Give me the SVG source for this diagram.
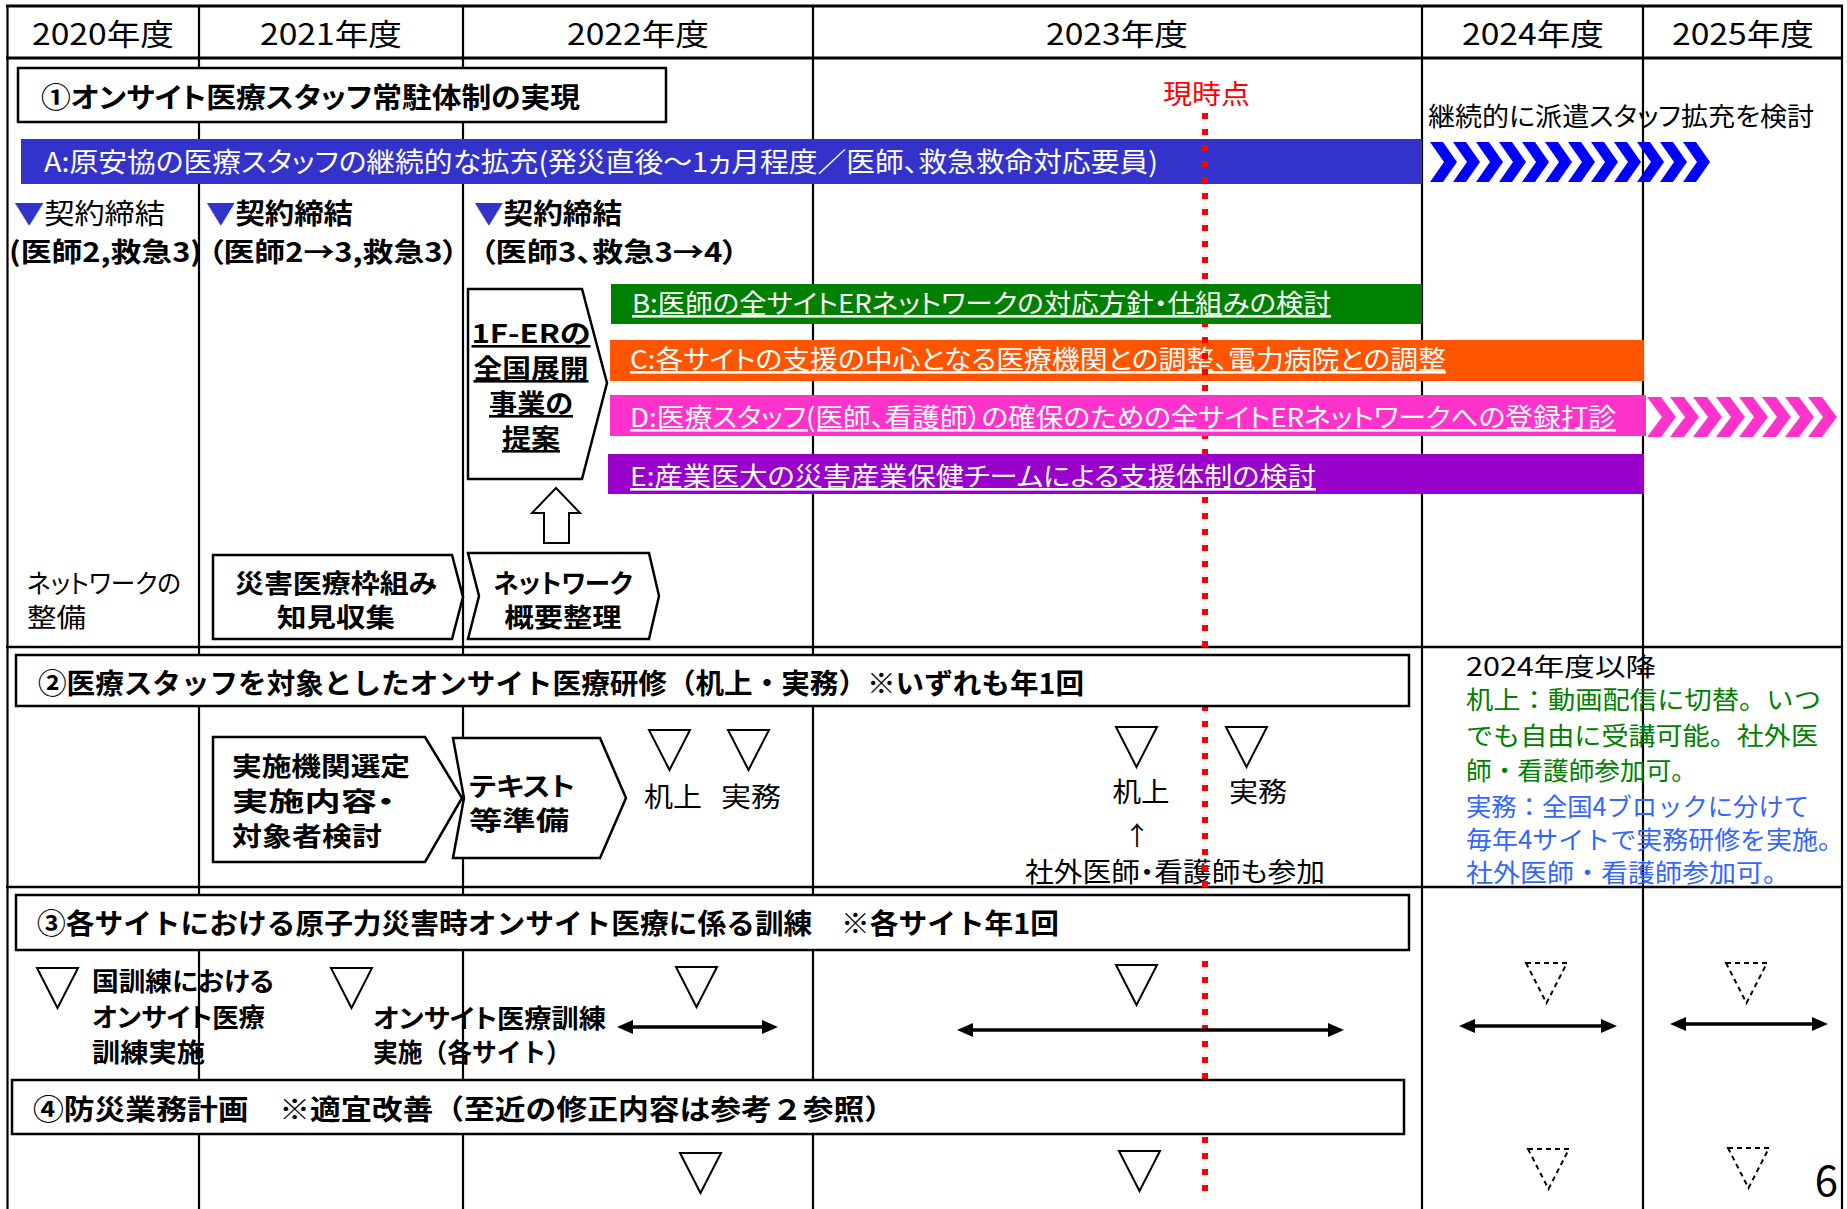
<svg xmlns="http://www.w3.org/2000/svg" xmlns:xlink="http://www.w3.org/1999/xlink" width="1847" height="1209" viewBox="0 0 1847 1209">
<style>
.t{font-family:'Noto Sans CJK JP','Noto Sans',sans-serif;font-feature-settings:"palt";fill:#000}
.np{font-feature-settings:normal}
.b{font-weight:bold}
.w{fill:#fff}
.u{text-decoration:underline}
.box{fill:#fff;stroke:#000;stroke-width:2.5}
.grid{stroke:#000;stroke-width:2.2;fill:none}
.tri{fill:#fff;stroke:#000;stroke-width:2}
.trid{fill:none;stroke:#000;stroke-width:2;stroke-dasharray:5 4}
.arr{stroke:#000;stroke-width:3.5;fill:none;marker-start:url(#ah);marker-end:url(#ah)}
</style>
<defs>
<marker id="ah" markerUnits="userSpaceOnUse" markerWidth="18" markerHeight="16" refX="8" refY="7" orient="auto-start-reverse" viewBox="0 0 18 16">
<path d="M0,0 L16,7 L0,14 z" fill="#000"/>
</marker>
<polygon id="chevB" points="0,0 13,0 27,20 13,40 0,40 14,20" fill="#0000FF"/>
<polygon id="chevP" points="0,0 14,0 29,20 14,40 0,40 15,20" fill="#FF33CC"/>
<polygon id="tri" points="0,0 41,0 20.5,40"/>
</defs>
<rect width="1847" height="1209" fill="#fff"/>

<g id="grid">
<line class="grid" x1="7.5" y1="5" x2="7.5" y2="1209"/>
<line class="grid" x1="199" y1="5" x2="199" y2="1209"/>
<line class="grid" x1="463" y1="5" x2="463" y2="1209"/>
<line class="grid" x1="813" y1="5" x2="813" y2="1209"/>
<line class="grid" x1="1422" y1="5" x2="1422" y2="1209"/>
<line class="grid" x1="1643" y1="5" x2="1643" y2="1209"/>
<line class="grid" x1="1842" y1="5" x2="1842" y2="1209"/>
<line class="grid" x1="6" y1="6" x2="1843" y2="6" style="stroke-width:3"/>
<line class="grid" x1="6" y1="58" x2="1843" y2="58" style="stroke-width:3"/>
<line class="grid" x1="6" y1="647" x2="1843" y2="647" style="stroke-width:2.6"/>
<line class="grid" x1="6" y1="887" x2="1843" y2="887" style="stroke-width:2.6"/>
</g>

<g id="header">
<text class="t" x="103" y="44.5" font-size="30" text-anchor="middle" textLength="142" lengthAdjust="spacingAndGlyphs">2020年度</text>
<text class="t" x="331" y="44.5" font-size="30" text-anchor="middle" textLength="142" lengthAdjust="spacingAndGlyphs">2021年度</text>
<text class="t" x="638" y="44.5" font-size="30" text-anchor="middle" textLength="142" lengthAdjust="spacingAndGlyphs">2022年度</text>
<text class="t" x="1117" y="44.5" font-size="30" text-anchor="middle" textLength="142" lengthAdjust="spacingAndGlyphs">2023年度</text>
<text class="t" x="1533" y="44.5" font-size="30" text-anchor="middle" textLength="142" lengthAdjust="spacingAndGlyphs">2024年度</text>
<text class="t" x="1743" y="44.5" font-size="30" text-anchor="middle" textLength="142" lengthAdjust="spacingAndGlyphs">2025年度</text>
</g>

<g id="bar-A">
<rect x="21" y="139" width="1401" height="45" fill="#3333CC"/>
<text class="t w" x="44" y="172" font-size="27" textLength="1114" lengthAdjust="spacingAndGlyphs">A:原安協の医療スタッフの継続的な拡充(発災直後～1ヵ月程度／医師、救急救命対応要員)</text>
</g>

<g id="bar-C">
<rect x="610" y="340" width="1034" height="41" fill="#FF5500"/>
<text class="t w u" x="630" y="369" font-size="26" textLength="816" lengthAdjust="spacingAndGlyphs">C:各サイトの支援の中心となる医療機関との調整、電力病院との調整</text>
</g>

<g id="training-2023-note">
<text class="t" x="1175" y="882" font-size="27" text-anchor="middle" textLength="300" lengthAdjust="spacingAndGlyphs">社外医師・看護師も参加</text>
</g>

<g id="now-line">
<text class="t" x="1163" y="104" font-size="27" style="fill:#FF0000" textLength="87" lengthAdjust="spacingAndGlyphs">現時点</text>
<line x1="1205" y1="113" x2="1205" y2="1193" stroke="#FF0000" stroke-width="6" stroke-dasharray="6 10"/>
</g>

<g id="bar-B">
<rect x="611" y="284" width="811" height="40" fill="#008000"/>
<text class="t w u" x="632" y="313" font-size="26" textLength="699" lengthAdjust="spacingAndGlyphs">B:医師の全サイトERネットワークの対応方針・仕組みの検討</text>
</g>

<g id="bar-D">
<rect x="610" y="395" width="1036" height="41" fill="#FF33CC"/>
<text class="t w u" x="630" y="427" font-size="26" textLength="986" lengthAdjust="spacingAndGlyphs">D:医療スタッフ(医師、看護師）の確保のための全サイトERネットワークへの登録打診</text>
</g>

<g id="bar-E">
<rect x="608" y="454" width="1036" height="40" fill="#9900CC"/>
<text class="t w u" x="630" y="486" font-size="26" textLength="686" lengthAdjust="spacingAndGlyphs">E:産業医大の災害産業保健チームによる支援体制の検討</text>
</g>

<g id="chevrons-A">
<use xlink:href="#chevB" x="1430" y="142"/>
<use xlink:href="#chevB" x="1453" y="142"/>
<use xlink:href="#chevB" x="1476" y="142"/>
<use xlink:href="#chevB" x="1499" y="142"/>
<use xlink:href="#chevB" x="1522" y="142"/>
<use xlink:href="#chevB" x="1545" y="142"/>
<use xlink:href="#chevB" x="1568" y="142"/>
<use xlink:href="#chevB" x="1591" y="142"/>
<use xlink:href="#chevB" x="1614" y="142"/>
<use xlink:href="#chevB" x="1637" y="142"/>
<use xlink:href="#chevB" x="1660" y="142"/>
<use xlink:href="#chevB" x="1683" y="142"/>
</g>
<g id="chevrons-D">
<use xlink:href="#chevP" x="1647" y="397"/>
<use xlink:href="#chevP" x="1670" y="397"/>
<use xlink:href="#chevP" x="1693" y="397"/>
<use xlink:href="#chevP" x="1716" y="397"/>
<use xlink:href="#chevP" x="1739" y="397"/>
<use xlink:href="#chevP" x="1762" y="397"/>
<use xlink:href="#chevP" x="1785" y="397"/>
<use xlink:href="#chevP" x="1808" y="397"/>
</g>

<g id="note-2024">
<text class="t" x="1428" y="125.6" font-size="26" textLength="386" lengthAdjust="spacingAndGlyphs">継続的に派遣スタッフ拡充を検討</text>
</g>

<g id="box-1">
<rect class="box" x="18" y="68" width="648" height="54"/>
<text class="t b" x="41" y="107.5" font-size="28" textLength="539" lengthAdjust="spacingAndGlyphs">①オンサイト医療スタッフ常駐体制の実現</text>
</g>

<g id="contracts">
<text class="t" x="14" y="224" font-size="28" textLength="151" lengthAdjust="spacingAndGlyphs"><tspan style="fill:#3333CC">▼</tspan>契約締結</text>
<text class="t b" x="9" y="262" font-size="27" textLength="193" lengthAdjust="spacingAndGlyphs">(医師2,救急3)</text>
<text class="t b" x="206" y="224" font-size="28" textLength="147" lengthAdjust="spacingAndGlyphs"><tspan style="fill:#3333CC">▼</tspan>契約締結</text>
<text class="t b" x="208" y="262" font-size="27" textLength="250" lengthAdjust="spacingAndGlyphs">（医師2→3,救急3）</text>
<text class="t b" x="474" y="224" font-size="28" textLength="148" lengthAdjust="spacingAndGlyphs"><tspan style="fill:#3333CC">▼</tspan>契約締結</text>
<text class="t b" x="480" y="262" font-size="27" textLength="258" lengthAdjust="spacingAndGlyphs">（医師3、救急3→4）</text>
</g>

<g id="box-1f-er">
<polygon class="box" points="468,289 582,289 607,383 582,479 468,479"/>
<text class="t b u" x="531" y="343" font-size="26" text-anchor="middle" textLength="119" lengthAdjust="spacingAndGlyphs">1F-ERの</text>
<text class="t b u" x="531" y="378" font-size="26" text-anchor="middle" textLength="115" lengthAdjust="spacingAndGlyphs">全国展開</text>
<text class="t b u" x="531" y="413" font-size="26" text-anchor="middle" textLength="84" lengthAdjust="spacingAndGlyphs">事業の</text>
<text class="t b u" x="531" y="448" font-size="26" text-anchor="middle" textLength="58" lengthAdjust="spacingAndGlyphs">提案</text>
</g>

<g id="label-network">
<text class="t" x="27" y="593" font-size="26" textLength="154" lengthAdjust="spacingAndGlyphs">ネットワークの</text>
<text class="t" x="27" y="627" font-size="26" textLength="59" lengthAdjust="spacingAndGlyphs">整備</text>
</g>

<g id="box-saigai">
<polygon class="box" points="213,555 452,555 463,597 452,639 213,639"/>
<text class="t b" x="336" y="593" font-size="26" text-anchor="middle" textLength="202" lengthAdjust="spacingAndGlyphs">災害医療枠組み</text>
<text class="t b" x="336" y="627" font-size="26" text-anchor="middle" textLength="118" lengthAdjust="spacingAndGlyphs">知見収集</text>
</g>

<g id="box-network">
<polygon class="box" points="468,553 649,553 659,596 649,639 468,639 479,596"/>
<text class="t b" x="563" y="593" font-size="26" text-anchor="middle" textLength="139" lengthAdjust="spacingAndGlyphs">ネットワーク</text>
<text class="t b" x="563" y="627" font-size="26" text-anchor="middle" textLength="117" lengthAdjust="spacingAndGlyphs">概要整理</text>
</g>

<g id="box-2">
<rect class="box" x="16" y="655" width="1393" height="51"/>
<text class="t np b" x="38" y="694" font-size="28" textLength="1046" lengthAdjust="spacingAndGlyphs">②医療スタッフを対象としたオンサイト医療研修（机上・実務）※いずれも年1回</text>
</g>

<g id="box-jisshi">
<polygon class="box" points="213,737 425,737 462,798 425,862 213,862"/>
<text class="t b" x="232" y="776" font-size="26" textLength="178" lengthAdjust="spacingAndGlyphs">実施機関選定</text>
<text class="t b" x="232" y="811" font-size="26" textLength="163" lengthAdjust="spacingAndGlyphs">実施内容・</text>
<text class="t b" x="232" y="846" font-size="26" textLength="150" lengthAdjust="spacingAndGlyphs">対象者検討</text>
</g>

<g id="box-text">
<polygon class="box" points="453,738 600,738 626,798 600,858 453,858 464,798"/>
<text class="t b" x="469" y="796" font-size="26" textLength="106" lengthAdjust="spacingAndGlyphs">テキスト</text>
<text class="t b" x="469" y="830" font-size="26" textLength="100" lengthAdjust="spacingAndGlyphs">等準備</text>
</g>

<g id="training-marks">
<use xlink:href="#tri" class="tri" x="649" y="730"/>
<use xlink:href="#tri" class="tri" x="728" y="730"/>
<text class="t" x="673" y="807" font-size="27" text-anchor="middle" textLength="58" lengthAdjust="spacingAndGlyphs">机上</text>
<text class="t" x="751" y="807" font-size="27" text-anchor="middle" textLength="60" lengthAdjust="spacingAndGlyphs">実務</text>
<use xlink:href="#tri" class="tri" x="1116" y="727"/>
<use xlink:href="#tri" class="tri" x="1226" y="727"/>
<text class="t" x="1141" y="802" font-size="27" text-anchor="middle" textLength="57" lengthAdjust="spacingAndGlyphs">机上</text>
<text class="t" x="1258" y="802" font-size="27" text-anchor="middle" textLength="58" lengthAdjust="spacingAndGlyphs">実務</text>
<text class="t" x="1137" y="845" font-size="26" text-anchor="middle">↑</text>
</g>

<g id="note-2024-training">
<text class="t np" x="1466" y="676" font-size="25" textLength="190" lengthAdjust="spacingAndGlyphs">2024年度以降</text>
<text class="t np" x="1466" y="709" font-size="25" style="fill:#008000" textLength="355" lengthAdjust="spacingAndGlyphs">机上：動画配信に切替。いつ</text>
<text class="t np" x="1466" y="745" font-size="25" style="fill:#008000" textLength="352" lengthAdjust="spacingAndGlyphs">でも自由に受講可能。社外医</text>
<text class="t np" x="1466" y="780" font-size="25" style="fill:#008000" textLength="231" lengthAdjust="spacingAndGlyphs">師・看護師参加可。</text>
<text class="t np" x="1466" y="816" font-size="25" style="fill:#3366FF" textLength="343" lengthAdjust="spacingAndGlyphs">実務：全国4ブロックに分けて</text>
<text class="t np" x="1466" y="849" font-size="25" style="fill:#3366FF" textLength="378" lengthAdjust="spacingAndGlyphs">毎年4サイトで実務研修を実施。</text>
<text class="t np" x="1466" y="882" font-size="25" style="fill:#3366FF" textLength="324" lengthAdjust="spacingAndGlyphs">社外医師・看護師参加可。</text>
</g>

<g id="box-3">
<rect class="box" x="16" y="895" width="1393" height="55"/>
<text class="t np b" x="37" y="934" font-size="28" textLength="1022" lengthAdjust="spacingAndGlyphs">③各サイトにおける原子力災害時オンサイト医療に係る訓練　※各サイト年1回</text>
</g>

<g id="drill-marks">
<use xlink:href="#tri" class="tri" x="37" y="968"/>
<text class="t b" x="92" y="991" font-size="26" textLength="182" lengthAdjust="spacingAndGlyphs">国訓練における</text>
<text class="t b" x="92" y="1027" font-size="26" textLength="173" lengthAdjust="spacingAndGlyphs">オンサイト医療</text>
<text class="t b" x="92" y="1062" font-size="26" textLength="113" lengthAdjust="spacingAndGlyphs">訓練実施</text>
<use xlink:href="#tri" class="tri" x="331" y="968"/>
<text class="t b" x="373" y="1028" font-size="26" textLength="233" lengthAdjust="spacingAndGlyphs">オンサイト医療訓練</text>
<text class="t np b" x="373" y="1062" font-size="26" textLength="198" lengthAdjust="spacingAndGlyphs">実施（各サイト）</text>
<use xlink:href="#tri" class="tri" x="676" y="967"/>
<use xlink:href="#tri" class="tri" x="1116" y="965"/>
<use xlink:href="#tri" class="trid" x="1526" y="963"/>
<use xlink:href="#tri" class="trid" x="1726" y="963"/>
</g>

<g id="connectors">
<polygon points="556,488 580,513 569,513 569,543 544,543 544,513 532,513" fill="#fff" stroke="#000" stroke-width="2"/>
<line class="arr" x1="625" y1="1027" x2="770" y2="1027"/>
<line class="arr" x1="965" y1="1030" x2="1336" y2="1030"/>
<line class="arr" x1="1467" y1="1026" x2="1609" y2="1026"/>
<line class="arr" x1="1678" y1="1024" x2="1820" y2="1024"/>
</g>

<g id="box-4">
<rect class="box" x="12" y="1080" width="1392" height="54"/>
<text class="t np b" x="33" y="1120" font-size="28" textLength="862" lengthAdjust="spacingAndGlyphs">④防災業務計画　※適宜改善（至近の修正内容は参考２参照）</text>
</g>

<g id="plan-marks">
<use xlink:href="#tri" class="tri" x="680" y="1153"/>
<use xlink:href="#tri" class="tri" x="1119" y="1151"/>
<use xlink:href="#tri" class="trid" x="1528" y="1149"/>
<use xlink:href="#tri" class="trid" x="1728" y="1148"/>
</g>

<text class="t" x="1838" y="1196" font-size="42" text-anchor="end">6</text>
</svg>
